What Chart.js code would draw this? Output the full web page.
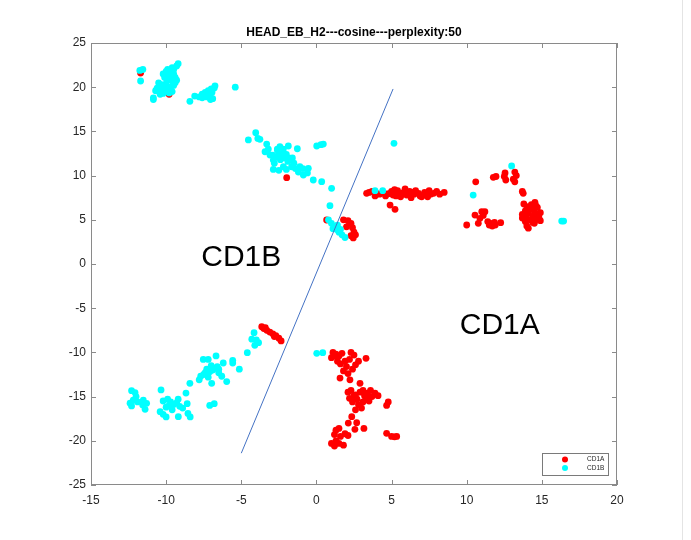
<!DOCTYPE html>
<html>
<head>
<meta charset="utf-8">
<title>HEAD_EB_H2 t-SNE</title>
<script src="https://cdn.jsdelivr.net/npm/chart.js@4.4.1/dist/chart.umd.min.js"></script>
<style>
    html, body { margin: 0; padding: 0; background: #ffffff; }
    canvas { display: block; }
</style>
</head>
<body>
<canvas id="tsne" width="691" height="540"></canvas>
<script>
// Axis ticks
const xTicks = [-15, -10, -5, 0, 5, 10, 15, 20];
const yTicks = [-25, -20, -15, -10, -5, 0, 5, 10, 15, 20, 25];

// CD1A embedding (x, y)
const cd1aPoints = [
    [-11.7, 21.6], [-9.8, 19.2], [-1.98, 9.77],
    // near the boundary
    [0.68, 4.98], [1.8, 5.0], [2.1, 4.9], [2.3, 4.6], [2.0, 4.2], [2.4, 4.1], [2.5, 3.6], [2.3, 3.2], [2.6, 3.3], [2.45, 2.95],
    // centre band
    [3.34, 8.0], [3.5, 8.1], [3.7, 8.2], [4.0, 8.0], [4.2, 7.9], [4.5, 8.0], [4.8, 7.95], [5.0, 8.2], [5.2, 8.4], [5.3, 7.7],
    [5.5, 8.0], [5.6, 7.6], [5.8, 8.1], [5.9, 8.5], [6.0, 7.8], [6.2, 8.2], [6.3, 7.5], [6.5, 7.9], [6.6, 8.3], [6.8, 8.0],
    [7.0, 7.6], [7.2, 8.1], [7.3, 7.8], [7.5, 8.3], [7.6, 7.9], [7.8, 8.0], [8.0, 8.2], [8.2, 7.9], [8.5, 8.1], [4.9, 6.67],
    [5.23, 6.18], [3.9, 7.7], [6.1, 8.0], [6.9, 7.7], [4.6, 7.7], [5.7, 7.9], [7.4, 7.6], [5.4, 8.3], [6.4, 8.1], [5.1, 7.8],
    // right group
    [12.55, 10.3], [12.5, 9.9], [12.6, 9.5], [13.2, 10.4], [13.3, 10.0], [13.1, 9.6], [13.2, 9.3], [11.77, 9.8], [11.95, 9.9],
    [10.6, 9.3], [13.76, 8.0], [13.7, 8.2],
    [13.8, 6.8], [14.0, 6.5], [13.9, 6.0], [13.7, 5.6], [14.1, 5.8], [14.3, 6.2], [14.5, 6.0], [14.7, 6.4], [14.9, 5.8],
    [14.8, 5.3], [14.6, 5.0], [14.4, 5.4], [14.2, 5.0], [13.9, 4.8], [13.7, 5.2], [14.0, 4.3], [14.1, 4.05], [14.5, 4.6],
    [14.9, 4.9], [14.54, 6.98], [14.3, 6.7], [13.9, 5.4], [14.7, 5.6], [14.4, 4.7], [14.0, 5.6], [14.6, 6.6],
    [10.0, 4.41], [10.55, 5.54], [11.0, 5.92], [11.21, 5.92], [10.88, 5.17], [10.77, 4.6], [11.4, 4.8], [11.5, 4.4],
    [11.6, 4.6], [11.7, 4.3], [11.85, 4.7], [11.9, 4.4], [12.26, 4.67], [11.1, 5.5],
    // lower-left chain
    [-3.64, -7.1], [-3.5, -7.3], [-3.3, -7.5], [-3.1, -7.7], [-2.9, -7.9], [-2.7, -8.1], [-2.5, -8.4], [-2.35, -8.7],
    [-3.4, -7.2], [-2.8, -8.2],
    // lower group
    [1.1, -10.0], [1.3, -10.2], [1.0, -10.6], [1.5, -10.4], [1.7, -10.1], [2.3, -10.0], [2.5, -10.3], [1.4, -11.0],
    [1.6, -11.3], [1.9, -11.0], [2.2, -10.8], [2.0, -11.6], [2.4, -11.9], [2.6, -11.4], [1.8, -12.1], [2.1, -12.4],
    [3.3, -10.67], [1.57, -12.9], [2.23, -13.1], [2.9, -13.5], [1.2, -10.4], [2.8, -11.0],
    [2.1, -14.5], [2.3, -14.3], [2.6, -14.8], [2.9, -14.5], [3.1, -14.3], [3.4, -14.6], [3.6, -14.3], [3.9, -14.6],
    [4.1, -14.9], [3.7, -15.0], [3.3, -15.1], [2.7, -15.3], [2.4, -15.6], [2.2, -15.2], [2.8, -15.9], [3.1, -15.6],
    [3.5, -15.5], [3.0, -16.3], [2.6, -16.5], [3.2, -14.9], [2.5, -14.9],
    [4.78, -15.6], [4.67, -16.0], [2.35, -17.27], [2.12, -18.0], [2.68, -17.95], [2.56, -18.7], [3.16, -18.6],
    [1.3, -18.8], [1.5, -18.6], [1.2, -19.3], [1.6, -19.5], [1.9, -19.2], [2.1, -19.4], [1.3, -20.0], [1.5, -20.3],
    [1.8, -20.5], [1.2, -20.6], [1.0, -20.3],
    [4.67, -19.15], [5.0, -19.5], [5.2, -19.55], [5.34, -19.5]
];

// CD1B embedding (x, y)
const cd1bPoints = [
    [-11.75, 21.9], [-11.55, 22.0], [-11.7, 20.7],
    [-10.85, 18.6], [-10.85, 18.8], [-10.5, 20.5], [-10.4, 20.1], [-10.6, 19.9], [-10.3, 19.6], [-10.2, 19.3], [-10.0, 19.5],
    [-10.1, 19.9], [-10.3, 20.3], [-10.0, 20.4], [-9.9, 20.8], [-10.1, 21.1], [-9.8, 21.4], [-10.2, 21.5], [-9.7, 21.8],
    [-9.5, 22.0], [-9.3, 22.4], [-9.2, 22.65], [-9.6, 22.2], [-9.9, 22.0], [-9.5, 21.5], [-9.4, 21.1], [-9.6, 20.7],
    [-9.3, 20.8], [-9.5, 20.2], [-9.7, 20.0], [-9.9, 19.7], [-9.6, 19.5], [-10.4, 19.2], [-10.7, 19.6], [-10.0, 21.8],
    [-9.7, 21.2], [-9.4, 20.5], [-9.8, 19.35],
    [-8.42, 18.4], [-8.1, 19.0], [-7.8, 18.9], [-7.6, 19.2], [-7.4, 19.4], [-7.6, 18.8], [-7.3, 18.9], [-7.2, 19.6],
    [-7.0, 19.8], [-7.1, 19.1], [-6.9, 18.7], [-6.8, 19.9], [-6.75, 20.15], [-7.3, 19.3], [-7.5, 19.0], [-6.95, 19.4],
    [-7.05, 18.6], [-5.4, 20.0],
    [-4.53, 14.03], [-4.04, 14.85], [-3.76, 14.1], [-3.9, 14.2], [-3.31, 13.57], [-3.42, 12.7], [-3.09, 12.33],
    [-2.87, 11.76], [-2.87, 10.7], [-2.43, 13.27], [-2.6, 12.9], [-2.5, 12.5], [-2.3, 12.2], [-2.7, 12.1], [-2.4, 11.8],
    [-2.1, 12.0], [-1.87, 13.35], [-1.27, 13.04], [-2.2, 12.5], [-1.76, 11.96], [-1.9, 11.6], [-2.2, 11.0], [-2.0, 10.7],
    [-1.65, 11.0], [-1.1, 11.0], [-1.2, 10.4], [-0.54, 10.82], [-0.87, 10.07], [-0.6, 10.3], [-0.21, 9.5], [0.35, 9.31],
    [0.02, 13.35], [0.46, 13.57], [0.3, 13.5], [1.01, 8.56], [0.9, 6.6], [-2.9, 12.3], [-3.2, 13.0], [-1.5, 11.4],
    [-2.5, 10.6], [-2.6, 13.0], [-2.2, 13.0], [-1.6, 12.0], [-2.0, 12.4], [-2.8, 11.4], [-1.4, 10.8], [-0.9, 10.8],
    [0.8, 5.0], [1.0, 4.6], [1.2, 4.2], [1.35, 3.9], [1.5, 3.6], [1.7, 3.3], [1.9, 3.0], [1.1, 4.0], [1.4, 4.4], [1.6, 3.9],
    [5.16, 13.65], [3.9, 8.3], [4.41, 8.3], [12.99, 11.09], [10.43, 7.8], [16.32, 4.86], [16.45, 4.86],
    [-4.15, -7.77], [-4.3, -8.5], [-4.0, -8.6], [-3.85, -8.9], [-4.1, -9.2], [-4.6, -10.03],
    [-7.53, -10.8], [-6.68, -10.4], [-7.2, -10.8], [-6.2, -11.2], [-5.57, -10.9], [-5.57, -11.2], [-5.13, -11.9],
    [-5.97, -13.3], [-6.97, -13.5], [-7.0, -11.5], [-6.8, -11.8], [-6.6, -11.6], [-7.3, -11.9], [-7.1, -12.2],
    [-7.5, -12.5], [-7.7, -12.7], [-7.8, -13.1], [-7.2, -12.8], [-6.5, -12.3], [-6.3, -12.7], [-6.9, -12.0],
    [-6.5, -11.9], [-7.4, -12.3],
    [-8.42, -13.5], [-8.68, -14.6], [-10.34, -14.25],
    [-12.3, -14.33], [-12.07, -14.55], [-12.4, -15.75], [-12.3, -16.06], [-12.19, -15.4], [-11.52, -15.4],
    [-11.56, -15.95], [-11.4, -16.44], [-11.3, -15.76], [-12.0, -15.0], [-11.9, -15.6],
    [-10.2, -15.5], [-9.9, -15.3], [-9.7, -15.6], [-9.5, -15.9], [-9.8, -16.0], [-10.0, -16.2], [-9.3, -15.7],
    [-9.1, -16.1], [-8.9, -16.3], [-9.2, -15.3], [-10.4, -16.7], [-10.2, -17.0], [-10.0, -17.3], [-9.19, -17.27],
    [-8.55, -16.9], [-8.4, -17.3], [-8.6, -15.8], [-9.6, -16.5],
    [-7.1, -16.0], [-6.8, -15.8],
    [0.02, -10.1], [0.42, -10.03]
];

// Separating line
const boundaryLine = [[-5.0, -21.4], [5.1, 19.8]];

// Region captions
const regionLabels = ['CD1B', 'CD1A'];
const regionAnchors = [[-5.0, 0.7], [12.2, -7.0]];

const TITLE = 'HEAD_EB_H2---cosine---perplexity:50';
const FONT = '"Liberation Sans", Arial, Helvetica, sans-serif';
const AXIS_GREY = '#8a8a8a';
const TEXT_DARK = '#262626';

const toXY = arr => arr.map(p => ({ x: p[0], y: p[1] }));

// Box, inward ticks, title, captions and legend on top of the plot
const matlabFrame = {
    id: 'matlabFrame',
    afterDraw(chart) {
        const { ctx, chartArea: a, scales } = chart;
        const xs = scales.x, ys = scales.y;
        ctx.save();

        // full axes box
        ctx.strokeStyle = AXIS_GREY;
        ctx.lineWidth = 1;
        ctx.strokeRect(a.left + 0.5, a.top + 0.5, a.right - a.left - 1, a.bottom - a.top - 1);

        // inward tick marks on all four sides
        const tl = 5;
        ctx.beginPath();
        xTicks.forEach(v => {
            const px = Math.round(xs.getPixelForValue(v)) + 0.5;
            ctx.moveTo(px, a.bottom); ctx.lineTo(px, a.bottom - tl);
            ctx.moveTo(px, a.top); ctx.lineTo(px, a.top + tl);
        });
        yTicks.forEach(v => {
            const py = Math.round(ys.getPixelForValue(v)) + 0.5;
            ctx.moveTo(a.left, py); ctx.lineTo(a.left + tl, py);
            ctx.moveTo(a.right, py); ctx.lineTo(a.right - tl, py);
        });
        ctx.stroke();

        // title
        ctx.fillStyle = '#000000';
        ctx.font = 'bold 12px ' + FONT;
        ctx.textAlign = 'center';
        ctx.textBaseline = 'middle';
        ctx.fillText(TITLE, (a.left + a.right) / 2, 33);

        // region captions
        ctx.font = '30px ' + FONT;
        regionLabels.forEach((t, i) => {
            ctx.fillText(t, xs.getPixelForValue(regionAnchors[i][0]), ys.getPixelForValue(regionAnchors[i][1]));
        });

        // legend box in the lower right corner
        const lx = 542, ly = 453, lw = 66, lh = 22;
        ctx.fillStyle = '#ffffff';
        ctx.fillRect(lx, ly, lw, lh);
        ctx.strokeStyle = '#7a7a7a';
        ctx.strokeRect(lx + 0.5, ly + 0.5, lw, lh);
        ctx.font = '6.5px ' + FONT;
        ctx.textAlign = 'left';
        chart.data.datasets.slice(0, 2).forEach((ds, i) => {
            const cy = ly + 6.5 + i * 8.5;
            ctx.fillStyle = ds.backgroundColor;
            ctx.beginPath();
            ctx.arc(lx + 23, cy, 3, 0, Math.PI * 2);
            ctx.fill();
            ctx.fillStyle = TEXT_DARK;
            ctx.fillText(ds.label, lx + 45, cy);
        });

        // edge of the window frame on the right
        ctx.strokeStyle = '#e4e4e4';
        ctx.beginPath();
        ctx.moveTo(682.5, 0); ctx.lineTo(682.5, 540);
        ctx.stroke();

        ctx.restore();
    }
};

const ctx = document.getElementById('tsne').getContext('2d');

new Chart(ctx, {
    type: 'scatter',
    data: {
        datasets: [
            {
                label: 'CD1A',
                data: toXY(cd1aPoints),
                backgroundColor: '#ff0000',
                pointRadius: 3.4,
                pointBorderWidth: 0,
                order: 2
            },
            {
                label: 'CD1B',
                data: toXY(cd1bPoints),
                backgroundColor: '#00ffff',
                pointRadius: 3.4,
                pointBorderWidth: 0,
                order: 1
            },
            {
                label: 'boundary',
                data: toXY(boundaryLine),
                showLine: true,
                borderColor: '#4472c4',
                borderWidth: 1,
                pointRadius: 0,
                order: 0
            }
        ]
    },
    options: {
        responsive: false,
        animation: false,
        events: [],
        layout: { padding: { top: 43, right: 74, bottom: 0, left: 0 } },
        scales: {
            x: {
                type: 'linear',
                min: xTicks[0],
                max: xTicks[xTicks.length - 1],
                afterFit: s => { s.height = 55; },
                grid: { display: false, drawTicks: false },
                border: { display: false },
                ticks: {
                    stepSize: 5,
                    padding: 8,
                    color: TEXT_DARK,
                    font: { family: FONT, size: 12 }
                }
            },
            y: {
                type: 'linear',
                min: yTicks[0],
                max: yTicks[yTicks.length - 1],
                afterFit: s => { s.width = 91; },
                grid: { display: false, drawTicks: false },
                border: { display: false },
                ticks: {
                    stepSize: 5,
                    padding: 5,
                    color: TEXT_DARK,
                    font: { family: FONT, size: 12 }
                }
            }
        },
        plugins: {
            legend: { display: false },
            tooltip: { enabled: false },
            title: { display: false }
        }
    },
    plugins: [matlabFrame]
});
</script>
</body>
</html>
